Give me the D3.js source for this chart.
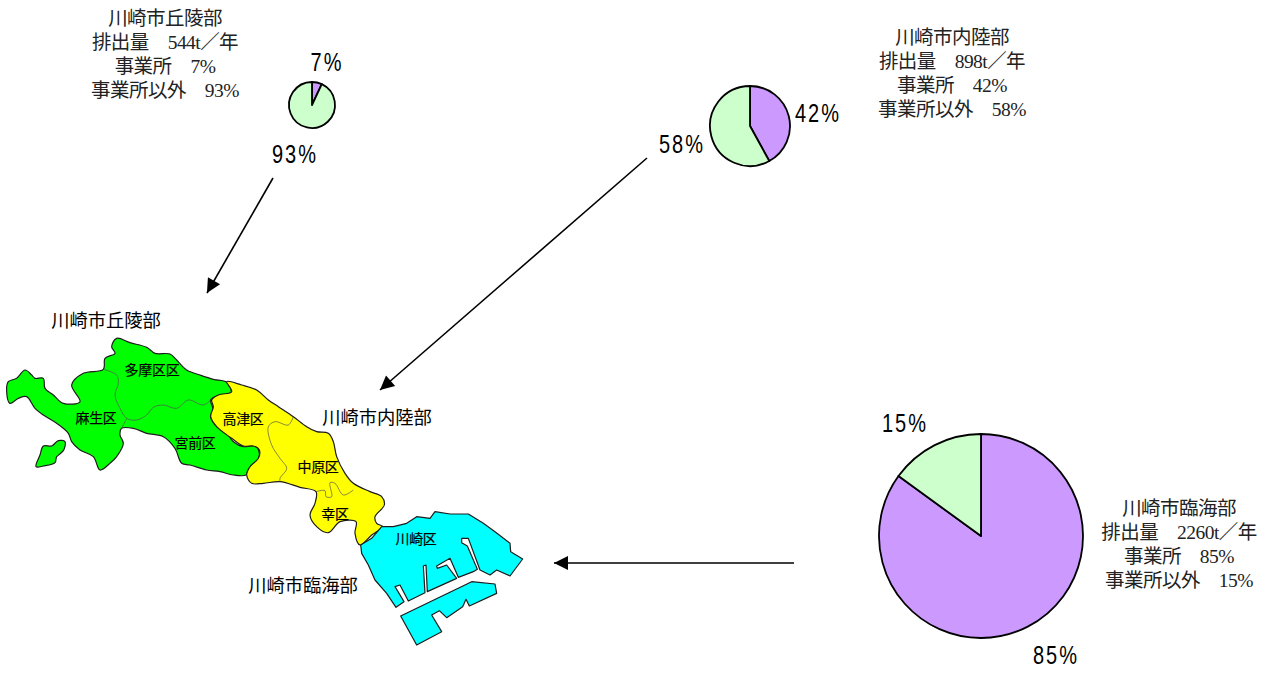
<!DOCTYPE html>
<html><head><meta charset="utf-8">
<script src="https://cdn.jsdelivr.net/npm/d3@7"></script>
<style>html,body{margin:0;background:#fff}svg{display:block}</style></head>
<body><svg id="c" width="1270" height="675"></svg>
<script>
const areaNames = ["川崎市丘陵部","川崎市内陸部","川崎市臨海部"];
const emissions = [544,898,2260];
const officeShare = [7,42,85];
const otherShare = [93,58,15];
const wardNames = ["多摩区区","麻生区","宮前区","高津区","中原区","幸区","川崎区"];

// Map outlines in traced map units (three times the picture scale), per traced sheet
const greenOutline = [[350,55],[390,68],[440,82],[465,100],[510,102],[530,120],[560,150],[600,165],[640,178],[680,187],[693,220],[650,228],[632,240],[640,270],[632,290],[650,320],[680,340],[700,365],[730,380],[765,378],[778,400],[770,430],[745,450],[738,465],[700,465],[660,455],[620,450],[570,435],[545,430],[525,385],[490,350],[440,340],[400,325],[365,325],[360,345],[370,370],[350,410],[330,430],[300,450],[280,410],[240,390],[215,365],[205,340],[170,310],[130,285],[105,265],[80,230],[55,235],[30,250],[20,215],[25,185],[50,175],[75,150],[95,165],[105,175],[130,175],[135,205],[160,225],[190,250],[240,245],[215,195],[250,160],[310,148],[315,115],[345,100],[335,80]];
const greenIslet = [[195,365],[175,362],[155,378],[130,378],[120,405],[108,440],[130,438],[165,428],[170,410],[190,392]];
const greenInner = [[[310,148],[350,165],[355,190],[345,225],[360,265],[380,295],[410,300],[440,285],[460,262],[490,255],[530,265],[565,240],[610,255],[632,240]],[[380,295],[365,325]]];
const yellowOutline = [[80,35],[125,45],[170,60],[205,90],[235,110],[280,140],[320,170],[350,185],[385,190],[400,215],[410,260],[435,310],[460,340],[510,365],[545,380],[553,405],[525,440],[530,460],[548,470],[515,495],[480,525],[465,490],[468,455],[420,455],[385,488],[350,470],[330,435],[345,400],[348,365],[300,352],[240,335],[190,340],[155,340],[140,315],[150,290],[175,265],[178,240],[160,228],[130,228],[95,205],[50,170],[32,140],[40,110],[35,90],[55,75],[95,65]];
const yellowInner = [[[280,140],[265,165],[225,155],[205,170],[215,225],[240,265],[260,295],[240,325],[240,335]],[[348,365],[375,362],[378,380],[395,380],[390,338],[405,340],[430,375],[460,360]]];
const cyanOutline = [[125,110],[160,110],[200,100],[230,80],[270,85],[285,65],[330,72],[385,72],[430,100],[465,125],[510,160],[512,185],[548,207],[510,258],[470,240],[450,255],[420,240],[385,145],[365,145],[365,158],[382,168],[412,238],[400,245],[355,262],[330,205],[290,228],[292,235],[320,225],[350,265],[262,305],[258,225],[250,228],[255,308],[205,333],[180,285],[165,290],[192,335],[168,352],[140,310],[105,270],[85,225],[65,190],[62,165],[95,145]];
const cyanIsland = [[182,378],[395,275],[465,282],[470,310],[388,348],[378,328],[368,350],[320,383],[298,362],[275,375],[305,425],[230,465]];

const svg = d3.select("#c");
const FONT = '"Liberation Serif","Noto Sans CJK JP",serif';
const GOTH = '"Noto Sans CJK JP",sans-serif';
const defs = svg.append("defs");
defs.append("marker").attr("id","ah").attr("viewBox","0 0 10 10").attr("refX",10).attr("refY",5)
  .attr("markerWidth",16).attr("markerHeight",14).attr("markerUnits","userSpaceOnUse").attr("orient","auto")
  .append("path").attr("d","M0,0L10,5L0,10Z").attr("fill","#000");

function sheet(ox,oy,curve){
  const x=d3.scaleLinear().domain([0,3]).range([ox,ox+1]);
  const y=d3.scaleLinear().domain([0,3]).range([oy,oy+1]);
  const base=()=>d3.line().x(d=>x(d[0])).y(d=>y(d[1]));
  return {closed:base().curve(curve),open:base().curve(d3.curveCatmullRom.alpha(0.5))};
}
const smooth=d3.curveCatmullRomClosed.alpha(0.5);
const sheets = [
 {line:sheet(0,320,smooth),fill:"#00ff00",shapes:[greenOutline,greenIslet],inner:greenInner},
 {line:sheet(200,370,smooth),fill:"#ffff00",shapes:[yellowOutline],inner:yellowInner},
 {line:sheet(340,490,d3.curveLinearClosed),fill:"#00ffff",shapes:[cyanOutline,cyanIsland],inner:[]}
];
const g = svg.append("g");
sheets.forEach(s=>{
  s.shapes.forEach(p=>g.append("path").attr("d",s.line.closed(p)).attr("fill",s.fill).attr("stroke","#1c1c1c").attr("stroke-width",1.2).attr("stroke-linejoin","round"));
  s.inner.forEach(p=>g.append("path").attr("d",s.line.open(p)).attr("fill","none").attr("stroke","#555").attr("stroke-width",0.7));
});

const wardAt = [[152,370],[96,418],[195,443],[243,419],[318,467],[335,514],[416,539]];
svg.append("g").selectAll("text").data(wardNames).join("text")
  .attr("x",(d,i)=>wardAt[i][0]).attr("y",(d,i)=>wardAt[i][1]+5).attr("text-anchor","middle")
  .attr("font-family",GOTH).attr("font-size",14).attr("letter-spacing",-0.3).attr("stroke","#000").attr("stroke-width",0.2).attr("fill","#000").text(d=>d);

const mapLabelAt = [[106,321],[377,418],[303,586]];
svg.append("g").selectAll("text").data(areaNames).join("text")
  .attr("x",(d,i)=>mapLabelAt[i][0]).attr("y",(d,i)=>mapLabelAt[i][1]+6).attr("text-anchor","middle")
  .attr("font-family",GOTH).attr("font-size",18.3).attr("fill","#000").text(d=>d);

// Pies
const pieAt = [[312,105,23],[750,126,40],[981,536,102]];
const pie = d3.pie().sort(null);
areaNames.forEach((n,i)=>{
  const [cx,cy,r]=pieAt[i];
  const arc=d3.arc().innerRadius(0).outerRadius(r);
  svg.append("g").attr("transform",`translate(${cx},${cy})`)
    .selectAll("path").data(pie([officeShare[i],otherShare[i]])).join("path")
    .attr("d",arc).attr("fill",(d,j)=>j?"#ccffcc":"#cc99ff").attr("stroke","#000").attr("stroke-width",1.8).attr("stroke-linejoin","round");
});
const pctAt = [[[327,62],[295,154]],[[818,113],[682,144]],[[1056,655],[905,423]]];
areaNames.forEach((n,i)=>{
  [officeShare[i],otherShare[i]].forEach((v,j)=>{
    const [x,y]=pctAt[i][j];
    svg.append("text").attr("text-anchor","middle")
      .attr("transform",`translate(${x},${y+9}) scale(0.8,1)`)
      .attr("font-family",'"Liberation Sans",sans-serif').attr("font-size",25).attr("letter-spacing",2.6).attr("fill","#000").text(v+"%");
  });
});

// Info blocks
const infoAt = [[165,18],[952,37],[1179,508]];
areaNames.forEach((n,i)=>{
  const lines=[n,`排出量\u3000${emissions[i]}t／年`,`事業所\u3000${officeShare[i]}%`,`事業所以外\u3000${otherShare[i]}%`];
  svg.append("g").selectAll("text").data(lines).join("text")
    .attr("x",infoAt[i][0]).attr("y",(d,k)=>infoAt[i][1]+k*24.3+6.5).attr("text-anchor","middle")
    .attr("font-family",FONT).attr("font-size",19.5).attr("letter-spacing",-0.55).attr("fill","#222").text(d=>d);
});

// Arrows
const arrows = [[[273,178],[207,293]],[[647,158],[380,390]],[[794,563],[554,563]]];
svg.append("g").selectAll("line").data(arrows).join("line")
  .attr("x1",d=>d[0][0]).attr("y1",d=>d[0][1]).attr("x2",d=>d[1][0]).attr("y2",d=>d[1][1])
  .attr("stroke","#000").attr("stroke-width",1.6).attr("marker-end","url(#ah)");
</script></body></html>
